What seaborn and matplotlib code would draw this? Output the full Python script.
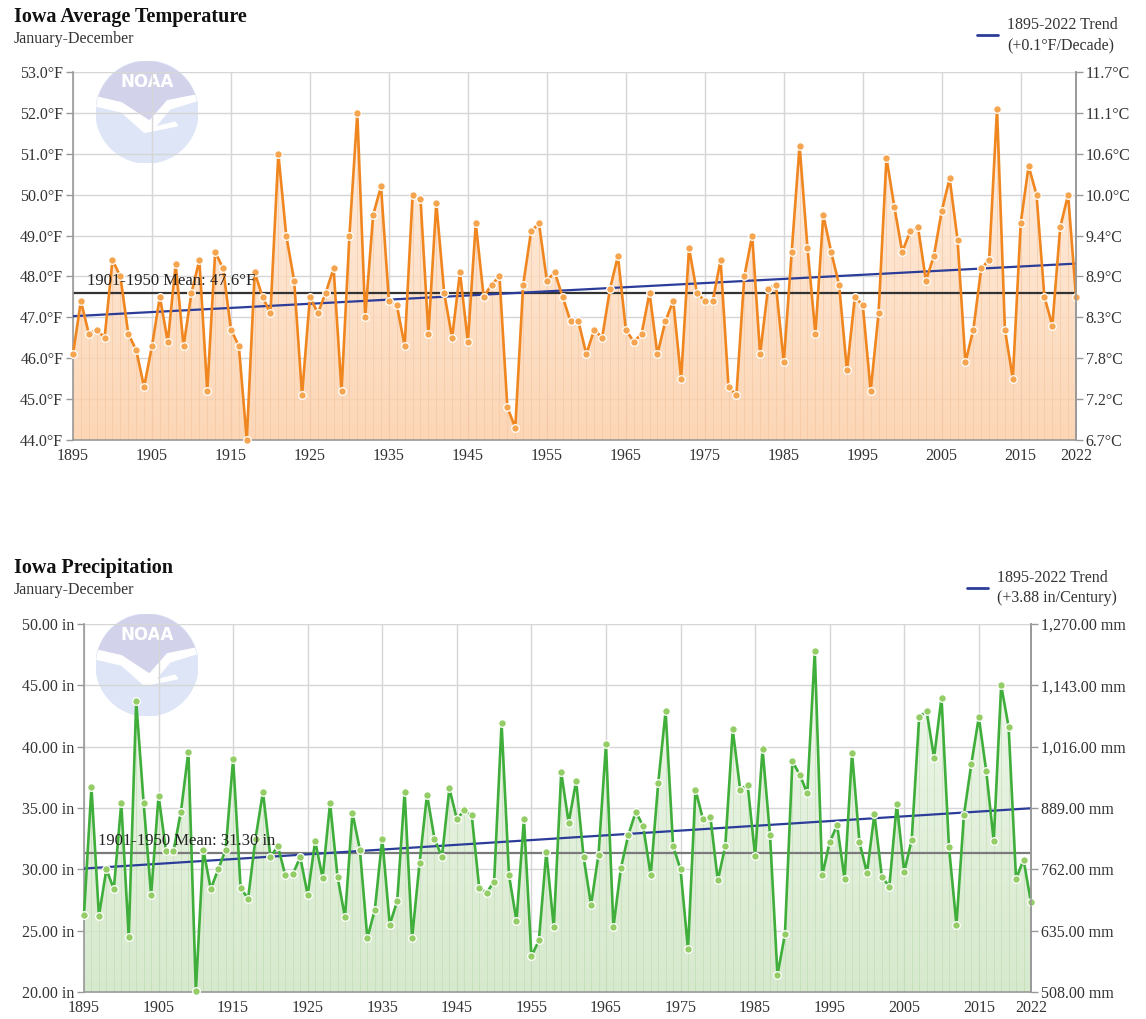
import numpy as np
import matplotlib
matplotlib.use('Agg')
import matplotlib.pyplot as plt
import seaborn as sns
from matplotlib.colors import LinearSegmentedColormap
from matplotlib.patches import Circle, Polygon
from matplotlib.lines import Line2D

years = list(range(1895, 2023))

temp_f = [
    46.1, 47.4, 46.6, 46.7, 46.5, 48.4, 48.0, 46.6, 46.2, 45.3,
    46.3, 47.5, 46.4, 48.3, 46.3, 47.6, 48.4, 45.2, 48.6, 48.2,
    46.7, 46.3, 44.0, 48.1, 47.5, 47.1, 51.0, 49.0, 47.9, 45.1,
    47.5, 47.1, 47.6, 48.2, 45.2, 49.0, 52.0, 47.0, 49.5, 50.2,
    47.4, 47.3, 46.3, 50.0, 49.9, 46.6, 49.8, 47.6, 46.5, 48.1,
    46.4, 49.3, 47.5, 47.8, 48.0, 44.8, 44.3, 47.8, 49.1, 49.3,
    47.9, 48.1, 47.5, 46.9, 46.9, 46.1, 46.7, 46.5, 47.7, 48.5,
    46.7, 46.4, 46.6, 47.6, 46.1, 46.9, 47.4, 45.5, 48.7, 47.6,
    47.4, 47.4, 48.4, 45.3, 45.1, 48.0, 49.0, 46.1, 47.7, 47.8,
    45.9, 48.6, 51.2, 48.7, 46.6, 49.5, 48.6, 47.8, 45.7, 47.5,
    47.3, 45.2, 47.1, 50.9, 49.7, 48.6, 49.1, 49.2, 47.9, 48.5,
    49.6, 50.4, 48.9, 45.9, 46.7, 48.2, 48.4, 52.1, 46.7, 45.5,
    49.3, 50.7, 50.0, 47.5, 46.8, 49.2, 50.0, 47.5,
]

precip_in = [
    26.3, 36.7, 26.2, 30.0, 28.4, 35.4, 24.5, 43.7, 35.4, 27.9,
    36.0, 31.5, 31.5, 34.7, 39.6, 20.1, 31.6, 28.4, 30.0, 31.6,
    39.0, 28.5, 27.6, 32.5, 36.3, 31.0, 31.9, 29.5, 29.6, 31.0,
    27.9, 32.3, 29.3, 35.4, 29.4, 26.1, 34.6, 31.6, 24.4, 26.7,
    32.5, 25.5, 27.4, 36.3, 24.4, 30.5, 36.1, 32.5, 31.0, 36.6,
    34.1, 34.8, 34.4, 28.5, 28.1, 29.0, 41.9, 29.5, 25.8, 34.1,
    22.9, 24.2, 31.4, 25.3, 37.9, 33.8, 37.2, 31.0, 27.1, 31.2,
    40.2, 25.3, 30.1, 32.8, 34.7, 33.5, 29.5, 37.0, 42.9, 31.9,
    30.0, 23.5, 36.5, 34.1, 34.3, 29.1, 31.9, 41.4, 36.5, 36.9,
    31.1, 39.8, 32.8, 21.4, 24.7, 38.8, 37.7, 36.2, 47.8, 29.5,
    32.2, 33.6, 29.2, 39.5, 32.2, 29.7, 34.5, 29.4, 28.6, 35.3,
    29.8, 32.4, 42.4, 42.9, 39.1, 44.0, 31.8, 25.5, 34.4, 38.6,
    42.4, 38.0, 32.3, 45.0, 41.6, 29.2, 30.8, 27.3,
]

temp_mean = 47.6
precip_mean = 31.30

x_ticks = [1895, 1905, 1915, 1925, 1935, 1945, 1955, 1965, 1975, 1985,
           1995, 2005, 2015, 2022]
temp_ticks = [44, 45, 46, 47, 48, 49, 50, 51, 52, 53]
precip_ticks = [20, 25, 30, 35, 40, 45, 50]

sns.set_style('white')
plt.rcParams['font.family'] = ['Liberation Serif', 'DejaVu Serif']

W, H = 1146, 1019
fig = plt.figure(figsize=(W / 100, H / 100), dpi=100)


def px_rect(x0, y0, x1, y1):
    return [x0 / W, 1 - y1 / H, (x1 - x0) / W, (y1 - y0) / H]


def draw_logo(rect):
    # faded NOAA emblem behind the plot area
    lax = fig.add_axes(rect, zorder=0)
    lax.set_xlim(-1, 1)
    lax.set_ylim(-1, 1)
    lax.set_aspect('equal')
    lax.axis('off')
    circ = Circle((0, 0), 1, color='#dde5f6')
    lax.add_patch(circ)
    top = Polygon([(-1.1, 0.32), (-0.5, 0.18), (0.05, -0.18), (0.4, 0.22),
                   (1.1, 0.36), (1.1, 1.1), (-1.1, 1.1)], color='#d2d2ea')
    lax.add_patch(top)
    top.set_clip_path(circ)
    gull = Polygon([(-1.1, 0.32), (-0.5, 0.18), (0.05, -0.18), (0.4, 0.22),
                    (1.1, 0.36), (1.1, 0.26), (0.45, 0.06), (0.15, -0.3),
                    (0.55, -0.2), (0.6, -0.27), (-0.05, -0.4), (-0.5, 0.0),
                    (-1.1, 0.14)], color='white')
    lax.add_patch(gull)
    gull.set_clip_path(circ)
    lax.text(0, 0.58, 'NOAA', color='white', ha='center', va='center',
             fontsize=12, fontweight='bold', family='DejaVu Sans')


def draw_panel(rect, vals, ylim, yticks, left_fmt, right_fmt, line_color,
               marker_color, fill_colors, col_color, mean, mean_label,
               mean_color):
    ax = fig.add_axes(rect, zorder=1)
    ax.patch.set_alpha(0)
    ax.set_axisbelow(True)
    ax.grid(True, color='#d6d6d6', lw=1)

    # gradient area under the series
    poly = ax.fill_between(years, vals, ylim[0], color='none', lw=0)
    cmap = LinearSegmentedColormap.from_list('fill', fill_colors)
    grad = np.linspace(0, 1, 256).reshape(-1, 1)
    img = ax.imshow(grad, extent=[years[0], years[-1], ylim[0], ylim[1]],
                    aspect='auto', cmap=cmap, origin='upper', alpha=0.85,
                    zorder=1)
    img.set_clip_path(poly.get_paths()[0], transform=ax.transData)
    ax.vlines(years, ylim[0], vals, color=col_color, lw=0.6, alpha=0.6,
              zorder=1.5)

    ax.axhline(mean, color=mean_color, lw=1.6, zorder=2.5)
    coef = np.polyfit(years, vals, 1)
    ends = [years[0], years[-1]]
    ax.plot(ends, np.polyval(coef, ends), color='#2b3d98', lw=1.6, zorder=3)

    sns.lineplot(x=years, y=vals, ax=ax, color=line_color, lw=1.9,
                 marker='o', markersize=5.5, markerfacecolor=marker_color,
                 markeredgecolor='white', markeredgewidth=0.9, zorder=4)
    ax.lines[-1].set_clip_on(False)

    ax.annotate(mean_label, xy=(years[0], mean), xytext=(10, 3),
                textcoords='offset points', ha='left', va='bottom',
                fontsize=12, color='#222222', zorder=5)

    ax.set_xlim(years[0], years[-1])
    ax.set_ylim(*ylim)
    ax.set_xticks(x_ticks)
    ax.set_xticklabels([str(t) for t in x_ticks])
    ax.set_yticks(yticks)
    ax.set_yticklabels([left_fmt(v) for v in yticks])
    ax.tick_params(axis='both', direction='out', length=5, width=1,
                   color='#999999', labelsize=11.5, labelcolor='#333333',
                   pad=2)
    ax.tick_params(axis='x', pad=1)
    for side in ['left', 'bottom', 'right']:
        ax.spines[side].set_color('#999999')
        ax.spines[side].set_linewidth(1.2)
    ax.spines['top'].set_visible(False)

    ax2 = ax.twinx()
    ax2.set_ylim(*ylim)
    ax2.set_yticks(yticks)
    ax2.set_yticklabels([right_fmt(v) for v in yticks])
    ax2.tick_params(axis='y', direction='out', length=5, width=1,
                    color='#999999', labelsize=11.5, labelcolor='#333333',
                    pad=2)
    for side in ['left', 'bottom', 'top']:
        ax2.spines[side].set_visible(False)
    ax2.spines['right'].set_color('#999999')
    ax2.spines['right'].set_linewidth(1.2)
    ax2.grid(False)
    return ax


def header(title, y_title, y_sub, x_leg_line, y_leg, leg_lines):
    fig.text(14 / W, 1 - y_title / H, title, fontsize=14.5,
             fontweight='bold', color='#111111', va='center', ha='left')
    fig.text(14 / W, 1 - y_sub / H, 'January-December', fontsize=11.5,
             color='#333333', va='center', ha='left')
    fig.add_artist(Line2D([x_leg_line / W, (x_leg_line + 21) / W],
                          [1 - y_leg / H, 1 - y_leg / H],
                          color='#2b3d98', lw=2))
    fig.text((x_leg_line + 30) / W, 1 - (y_leg - 10) / H, leg_lines[0],
             fontsize=11.5, color='#333333', va='center', ha='left')
    fig.text((x_leg_line + 30) / W, 1 - (y_leg + 10) / H, leg_lines[1],
             fontsize=11.5, color='#333333', va='center', ha='left')


draw_logo(px_rect(96, 61, 198, 163))
draw_logo(px_rect(96, 614, 198, 716))

draw_panel(px_rect(73, 72, 1076, 440), temp_f, (44, 53), temp_ticks,
           lambda v: f'{v:.1f}°F', lambda v: f'{(v - 32) * 5 / 9:.1f}°C',
           '#f0861f', '#f5a54f', ['#fff1e6', '#fccfa8'], '#f3c29a',
           temp_mean, f'1901-1950 Mean: {temp_mean:.1f}°F', '#333333')

draw_panel(px_rect(84, 624, 1031, 992), precip_in, (20, 50), precip_ticks,
           lambda v: f'{v:.2f} in', lambda v: f'{v * 25.4:,.2f} mm',
           '#3fae3a', '#94cc66', ['#f1f8ed', '#cfe6c4'], '#b9d9ad',
           precip_mean, f'1901-1950 Mean: {precip_mean:.2f} in', '#7a7a7a')

header('Iowa Average Temperature', 17, 39, 977, 35,
       ['1895-2022 Trend', '(+0.1°F/Decade)'])
header('Iowa Precipitation', 568, 590, 967, 588,
       ['1895-2022 Trend', '(+3.88 in/Century)'])

fig.savefig('out.png', dpi=100, facecolor='white')
